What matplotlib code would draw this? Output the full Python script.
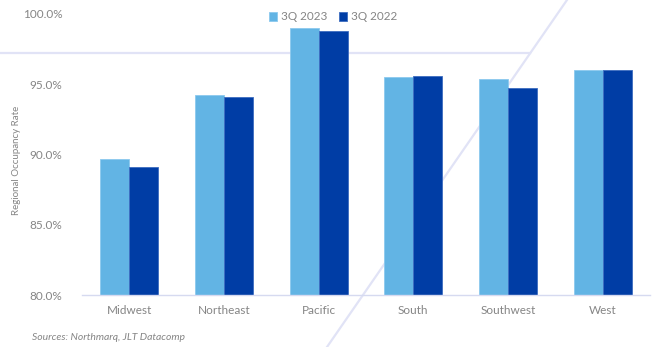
import matplotlib
matplotlib.use("Agg")
import matplotlib.pyplot as plt
from matplotlib.lines import Line2D
import numpy as np

regions = ["Midwest", "Northeast", "Pacific", "South", "Southwest", "West"]
q3_2023 = [89.7, 94.2, 99.0, 95.5, 95.4, 96.0]
q3_2022 = [89.1, 94.1, 98.8, 95.6, 94.7, 96.0]
series_labels = ["3Q 2023", "3Q 2022"]
y_ticks = [80, 85, 90, 95, 100]

light_blue = "#62B4E4"
dark_blue = "#003DA5"
text_gray = "#858585"
accent = "#e1e3f6"

plt.rcParams["font.family"] = ["Lato", "DejaVu Sans"]

W, H = 652, 347
fig = plt.figure(figsize=(W / 100, H / 100), dpi=100)

# decorative background lines (figure pixel coordinates)
fig.add_artist(Line2D([0 / W, 530 / W], [1 - 53 / H, 1 - 53 / H],
                      transform=fig.transFigure, color=accent, lw=1.6, zorder=0))
fig.add_artist(Line2D([567 / W, 327 / W], [1.0, 0.0],
                      transform=fig.transFigure, color=accent, lw=1.6, zorder=0))

ax = fig.add_axes([82 / W, (H - 295) / H, 568 / W, 281 / H])
ax.patch.set_alpha(0)
ax.set_zorder(1)

x = np.arange(len(regions))
bw = 0.306
ax.bar(x - bw / 2, q3_2023, width=bw, color=light_blue, edgecolor="#8cc9ee",
       linewidth=0.6, label=series_labels[0], zorder=2)
ax.bar(x + bw / 2, q3_2022, width=bw, color=dark_blue, edgecolor="#3d6cc0",
       linewidth=0.6, label=series_labels[1], zorder=2)

ax.set_xlim(-0.5, len(regions) - 0.5)
ax.set_ylim(80, 100)
ax.set_yticks(y_ticks)
ax.set_yticklabels([f"{v:.1f}%" for v in y_ticks])
ax.set_xticks(x)
ax.set_xticklabels(regions)
ax.tick_params(axis="both", length=0, colors=text_gray, labelsize=8.5)
ax.tick_params(axis="y", pad=14)
ax.tick_params(axis="x", pad=7)

for side in ["top", "right", "left"]:
    ax.spines[side].set_visible(False)
ax.spines["bottom"].set_color("#d6daf0")
ax.spines["bottom"].set_linewidth(1.0)

fig.text(17 / W, 1 - 160 / H, "Regional Occupancy Rate", rotation=90,
         ha="center", va="center", color=text_gray, fontsize=7)

leg = fig.legend(loc="center", bbox_to_anchor=(333 / W, 1 - 17 / H), ncol=2,
                 frameon=False, fontsize=8.5, handlelength=0.7, handleheight=0.7,
                 handletextpad=0.3, columnspacing=1.0)
for t in leg.get_texts():
    t.set_color(text_gray)

fig.text(32 / W, 1 - 338 / H, "Sources: Northmarq, JLT Datacomp", style="italic",
         ha="left", va="center", color=text_gray, fontsize=7.5)

fig.savefig("out.png", dpi=100)
